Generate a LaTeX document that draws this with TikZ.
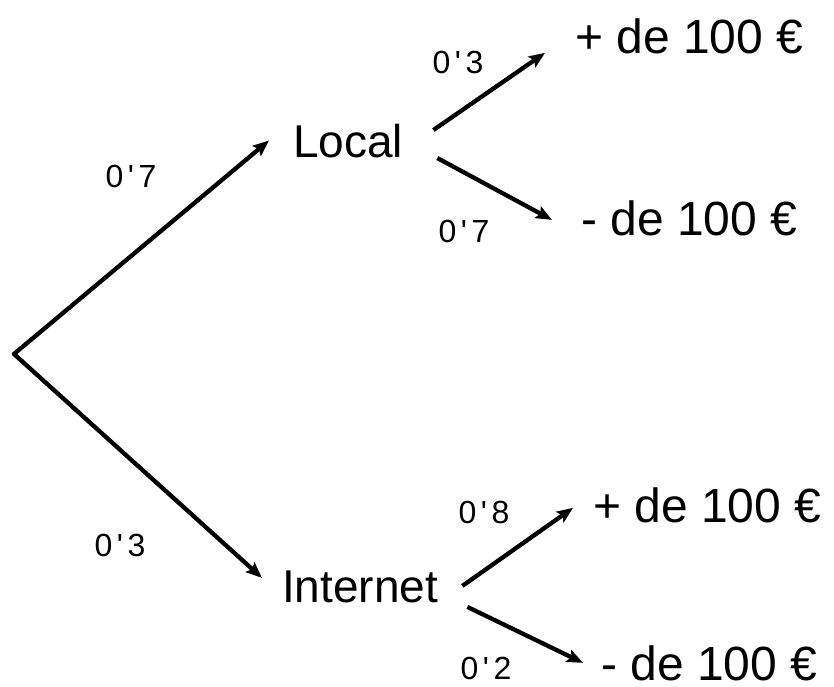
\documentclass[tikz,border=0pt]{standalone}
\usepackage{fontspec}
\setmainfont{Liberation Sans}[Ligatures=TeXOff]
\usetikzlibrary{arrows.meta,calc}
\begin{document}
\begin{tikzpicture}[x=1pt,y=-1pt,
  outcome/.style={anchor=base west,inner sep=0pt,font=\fontsize{48}{58}\selectfont},
  state/.style={anchor=base west,inner sep=0pt,font=\fontsize{46}{55}\selectfont},
  prob/.style={anchor=center,inner sep=0pt,font=\fontsize{32}{38}\selectfont},
  branch/.style={line width=4.3pt,-{Stealth[length=16pt,width=13pt,inset=3pt]}}]
\useasboundingbox (0,0) rectangle (834,686);
\coordinate (root) at (14,354);
\node[state] (local) at (293,157) {Local};
\node[state] (internet) at (282,602) {Internet};
\node[outcome] (lplus) at (575,53) {+ de 100 €};
\node[outcome] (lminus) at (581,235) {- de 100 €};
\node[outcome] (iplus) at (593,522) {+ de 100 €};
\node[outcome] (iminus) at (601,680) {- de 100 €};
\newcommand{\pr}[2]{#1\hspace{4.5pt}'\hspace{4.5pt}#2}
\node[prob] (p1) at (131,176) {\pr{0}{7}};
\node[prob] (p2) at (120,545) {\pr{0}{3}};
\node[prob] (p3) at (458,62) {\pr{0}{3}};
\node[prob] (p4) at (464,231) {\pr{0}{7}};
\node[prob] (p5) at (484,512) {\pr{0}{8}};
\node[prob] (p6) at (486,668) {\pr{0}{2}};
\draw[branch,line cap=round] (root) -- ($(local.west)+(-24,0)$);
\draw[branch,line cap=round] (root) -- ($(internet.west)+(-20,-8.5)$);
\draw[branch] ($(local.east)+(30,-10.5)$) -- ($(lplus.west)+(-30,17)$);
\draw[branch] ($(local.east)+(34,17.5)$) -- ($(lminus.west)+(-29,2)$);
\draw[branch] ($(internet.east)+(24,-0.5)$) -- ($(iplus.west)+(-20,3)$);
\draw[branch] ($(internet.east)+(29,20.5)$) -- ($(iminus.west)+(-18,0)$);
\end{tikzpicture}
\end{document}
